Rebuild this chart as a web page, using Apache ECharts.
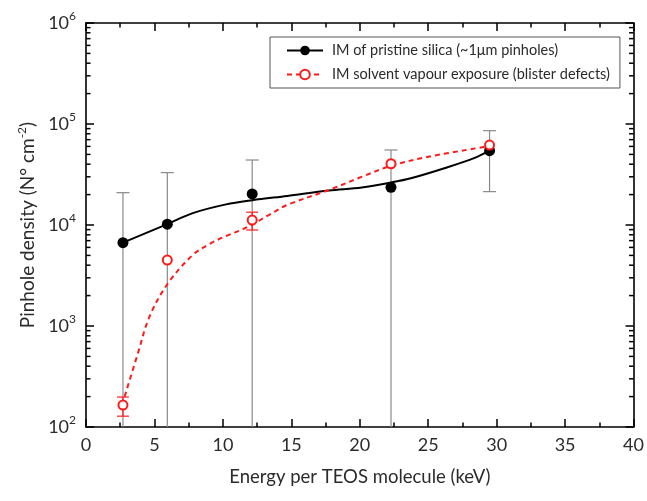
<!DOCTYPE html>
<html>
<head>
<meta charset="utf-8">
<script src="https://cdn.jsdelivr.net/npm/echarts@6/dist/echarts.min.js"></script>
<style>html,body{margin:0;padding:0;background:#fff;}#c{width:647px;height:501px;}</style>
</head>
<body>
<div id="c"></div>
<script>
// ---- data ----
const energyX = [2.70, 5.94, 12.14, 22.28, 29.48];
const pristineVals = [6680, 10200, 20300, 23600, 54400];
const pristineErrLow = [10, 10, 10, 10, 21400];
const pristineErrHigh = [20900, 33000, 44000, 55300, 85900];
const solventVals = [165, 4500, 11200, 40400, 61900];
const solventErrLow = [128, null, 8920, null, null];
const solventErrHigh = [198, null, 13400, null, null];

const pristineFitX = [2.70, 5.94, 7.8, 10.23, 12.14, 14.7, 17.74, 20.15, 22.26, 23.8, 26.24, 28.4, 29.48];
const pristineFitY = [6680, 10200, 13100, 16000, 17600, 19400, 21900, 23500, 26300, 29200, 36700, 46200, 54400];
const solventFitX = [2.82, 3.79, 4.64, 5.99, 7.8, 9.01, 10.23, 11.43, 12.14, 13.38, 14.7, 17.74, 20.17, 22.26, 25.02, 29.48];
const solventFitY = [200, 536, 1240, 2650, 5050, 6480, 7780, 9060, 10100, 12600, 15800, 22200, 30100, 38500, 47400, 60500];

const xTicks = [0, 5, 10, 15, 20, 25, 30, 35, 40];
const yDecades = [2, 3, 4, 5, 6];

const name1 = 'IM of pristine silica (~1\u03bcm pinholes)';
const name2 = 'IM solvent vapour exposure (blister defects)';

// ---- build ----
const FONT = 'Lato';
const TXT = '#2b2b2b';
const xMin = xTicks[0], xMax = xTicks[xTicks.length - 1];
const yMin = Math.pow(10, yDecades[0]), yMax = Math.pow(10, yDecades[yDecades.length - 1]);
const zip = (a, b) => a.map((v, i) => [v, b[i]]);

const minorVals = [];
for (let d = yDecades[0]; d < yDecades[yDecades.length - 1]; d++) {
  for (let m = 2; m <= 9; m++) minorVals.push(m * Math.pow(10, d));
}

function errData(lo, hi) {
  const out = [];
  energyX.forEach((x, i) => { if (lo[i] != null) out.push([x, lo[i], hi[i]]); });
  return out;
}

function errRender(color, capW) {
  return function (params, api) {
    const x = api.value(0), lo = api.value(1), hi = api.value(2);
    const pHi = api.coord([x, hi]);
    const pLo = api.coord([x, Math.max(lo, 1e-9)]);
    const st = { stroke: color, lineWidth: 1.2 };
    const children = [
      { type: 'line', shape: { x1: pHi[0], y1: pHi[1], x2: pLo[0], y2: pLo[1] }, style: st },
      { type: 'line', shape: { x1: pHi[0] - capW / 2, y1: pHi[1], x2: pHi[0] + capW / 2, y2: pHi[1] }, style: st }
    ];
    if (lo >= yMin) {
      children.push({ type: 'line', shape: { x1: pLo[0] - capW / 2, y1: pLo[1], x2: pLo[0] + capW / 2, y2: pLo[1] }, style: st });
    }
    return { type: 'group', children };
  };
}

const axisLineStyle = { color: '#000', width: 1.6 };
const tickStyle = { color: '#000', width: 1.5 };

const option = {
  backgroundColor: '#fff',
  animation: false,
  textStyle: { fontFamily: FONT },
  grid: { left: 86, right: 10.5, top: 23, bottom: 74, containLabel: false },
  legend: {
    data: [name1, name2],
    orient: 'vertical',
    left: 270, top: 37,
    borderColor: '#555', borderWidth: 1,
    padding: [6, 10, 6, 16],
    itemGap: 9, itemWidth: 36, itemHeight: 12,
    textStyle: { fontSize: 14.5, fontFamily: FONT, color: TXT, padding: [0, 0, 0, 4] }
  },
  xAxis: [{
    type: 'value', min: xMin, max: xMax, interval: 5, position: 'bottom',
    name: 'Energy per TEOS molecule (keV)', nameLocation: 'middle', nameGap: 41,
    nameTextStyle: { fontSize: 18.5, fontFamily: FONT, color: TXT },
    axisLine: { show: true, onZero: false, lineStyle: axisLineStyle },
    axisTick: { show: true, inside: true, length: 8, lineStyle: tickStyle },
    minorTick: { show: true, splitNumber: 2, length: 4.5, lineStyle: tickStyle },
    axisLabel: { fontSize: 18, fontFamily: FONT, color: TXT, margin: 9 },
    splitLine: { show: false }
  }, {
    type: 'value', min: xMin, max: xMax, interval: 5, position: 'top',
    axisLine: { show: true, onZero: false, lineStyle: axisLineStyle },
    axisTick: { show: true, inside: true, length: 8, lineStyle: tickStyle },
    minorTick: { show: true, splitNumber: 2, length: 4.5, lineStyle: tickStyle },
    axisLabel: { show: false },
    splitLine: { show: false }
  }],
  yAxis: [{
    type: 'log', logBase: 10, min: yMin, max: yMax, position: 'left',
    name: 'Pinhole density (N\u00b0 cm{s|-2})', nameLocation: 'middle', nameGap: 43,
    nameTextStyle: {
      fontSize: 19, fontFamily: FONT, color: TXT,
      rich: { s: { fontSize: 12, fontFamily: FONT, color: TXT, verticalAlign: 'top', padding: [0, 0, 12, 0] } }
    },
    axisLine: { show: true, onZero: false, lineStyle: axisLineStyle },
    axisTick: { show: true, inside: true, length: 8, lineStyle: tickStyle },
    axisLabel: {
      margin: 10,
      formatter: v => '{b|10}{s|' + Math.round(Math.log10(v)) + '}',
      rich: {
        b: { fontSize: 18, fontFamily: FONT, color: TXT },
        s: { fontSize: 12, fontFamily: FONT, color: TXT, verticalAlign: 'top', padding: [0, 0, 14, 0] }
      }
    },
    splitLine: { show: false }
  }, {
    type: 'log', logBase: 10, min: yMin, max: yMax, position: 'right',
    axisLine: { show: true, onZero: false, lineStyle: axisLineStyle },
    axisTick: { show: true, inside: true, length: 8, lineStyle: tickStyle },
    axisLabel: { show: false },
    splitLine: { show: false }
  }],
  series: [
    {
      name: 'minorTicks', type: 'custom', silent: true, z: 3,
      data: minorVals.map(v => [xMin, v]),
      renderItem: function (params, api) {
        const v = api.value(1);
        const l = api.coord([xMin, v]);
        const r = api.coord([xMax, v]);
        const st = { stroke: '#000', lineWidth: 1.5 };
        return { type: 'group', children: [
          { type: 'line', shape: { x1: l[0], y1: l[1], x2: l[0] + 4.5, y2: l[1] }, style: st },
          { type: 'line', shape: { x1: r[0], y1: r[1], x2: r[0] - 4.5, y2: r[1] }, style: st }
        ] };
      }
    },
    {
      name: 'pristineErr', type: 'custom', clip: true, silent: true, z: 2,
      data: errData(pristineErrLow, pristineErrHigh),
      renderItem: errRender('#8a8a8a', 13)
    },
    {
      name: 'solventErr', type: 'custom', clip: true, silent: true, z: 2,
      data: errData(solventErrLow, solventErrHigh),
      renderItem: errRender('#ff1a1a', 12)
    },
    {
      name: name1, type: 'line', smooth: 0.35, showSymbol: false, symbol: 'circle', z: 4,
      data: zip(pristineFitX, pristineFitY),
      lineStyle: { color: '#000', width: 2 },
      itemStyle: { color: '#000', borderColor: '#000' }
    },
    {
      name: name2, type: 'line', smooth: 0.35, showSymbol: false, symbol: 'circle', z: 4,
      data: zip(solventFitX, solventFitY),
      lineStyle: { color: '#ff1a1a', width: 2, type: [5, 4] },
      itemStyle: { color: '#fff', borderColor: '#ff1a1a', borderWidth: 2 }
    },
    {
      name: 'pristinePts', type: 'scatter', symbol: 'circle', symbolSize: 11, z: 5,
      data: zip(energyX, pristineVals),
      itemStyle: { color: '#000', opacity: 1 }
    },
    {
      name: 'solventPts', type: 'scatter', symbol: 'circle', symbolSize: 9, z: 6,
      data: zip(energyX, solventVals),
      itemStyle: { color: '#fff', borderColor: '#ff1a1a', borderWidth: 2, opacity: 1 }
    }
  ]
};

const chart = echarts.init(document.getElementById('c'), null, { renderer: 'canvas' });
chart.setOption(option);
</script>
</body>
</html>
